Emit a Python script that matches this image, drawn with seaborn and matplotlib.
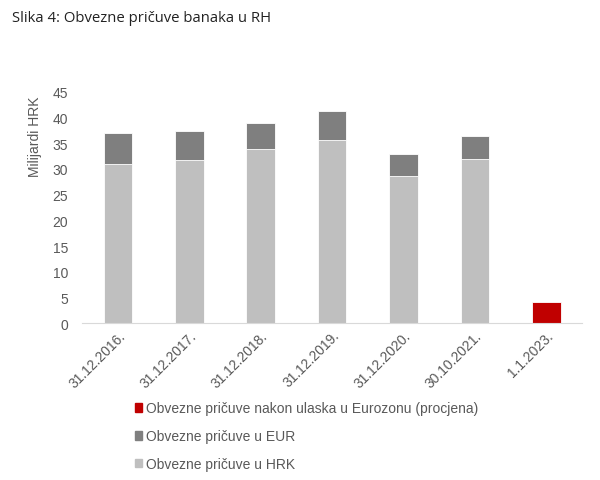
import numpy as np
import pandas as pd
import seaborn as sns
import matplotlib
matplotlib.use("Agg")
from matplotlib import pyplot as plt
from matplotlib.patches import Patch

# data (billions HRK)
dates = ['31.12.2016.', '31.12.2017.', '31.12.2018.', '31.12.2019.',
         '31.12.2020.', '30.10.2021.', '1.1.2023.']
hrk = [31.0, 31.7, 33.8, 35.7, 28.6, 32.0, np.nan]
eur = [5.9, 5.6, 5.2, 5.6, 4.3, 4.5, np.nan]
euro_est = [np.nan, np.nan, np.nan, np.nan, np.nan, np.nan, 4.2]

lbl_est = 'Obvezne pričuve nakon ulaska u Eurozonu (procjena)'
lbl_eur = 'Obvezne pričuve u EUR'
lbl_hrk = 'Obvezne pričuve u HRK'

c_hrk = '#BFBFBF'
c_eur = '#7F7F7F'
c_est = '#C00000'
txt = '#595959'

sns.set_style('white')
plt.rcParams['font.family'] = ['Liberation Sans', 'DejaVu Sans']

df = pd.DataFrame({'date': dates, 'hrk': hrk, 'eur': eur, 'est': euro_est})
df['total'] = df['hrk'] + df['eur']

fig = plt.figure(figsize=(6, 4.81), dpi=100)
ax = fig.add_axes([0.137, 0.326, 0.833, 0.481])

# stacked bars: total first (EUR colour), HRK drawn over it
sns.barplot(data=df, x='date', y='total', color=c_eur, width=0.4,
            saturation=1, edgecolor='white', linewidth=0.6, ax=ax)
sns.barplot(data=df, x='date', y='hrk', color=c_hrk, width=0.4,
            saturation=1, edgecolor='white', linewidth=0.6, ax=ax)
sns.barplot(data=df, x='date', y='est', color=c_est, width=0.4,
            saturation=1, edgecolor='white', linewidth=0.6, ax=ax)

ax.set_ylim(0, 45)
ax.set_yticks(range(0, 46, 5))
ax.set_xlim(-0.5, 6.5)
ax.set_xlabel('')
ax.set_ylabel('Milijardi HRK', fontsize=10, color=txt)
ax.yaxis.set_label_coords(-0.08, 0.81)

for s in ['top', 'right', 'left']:
    ax.spines[s].set_visible(False)
ax.spines['bottom'].set_color('#D9D9D9')
ax.tick_params(axis='both', length=0, labelsize=10, colors=txt)
ax.tick_params(axis='y', pad=10)
plt.setp(ax.get_xticklabels(), rotation=45, ha='right', rotation_mode='anchor')

handles = [Patch(color=c_est, label=lbl_est),
           Patch(color=c_eur, label=lbl_eur),
           Patch(color=c_hrk, label=lbl_hrk)]
leg = fig.legend(handles=handles, loc='upper left', bbox_to_anchor=(0.215, 0.175),
                 frameon=False, fontsize=10, handlelength=0.55, handleheight=0.55,
                 handletextpad=0.25, labelspacing=1.0, borderaxespad=0)
for t in leg.get_texts():
    t.set_color(txt)

fig.text(0.02, 0.978, 'Slika 4: Obvezne pričuve banaka u RH', fontsize=10.7,
         family=['Open Sans', 'DejaVu Sans'], va='top', ha='left', color='#222222')

fig.savefig('out.png', dpi=100, facecolor='white')
